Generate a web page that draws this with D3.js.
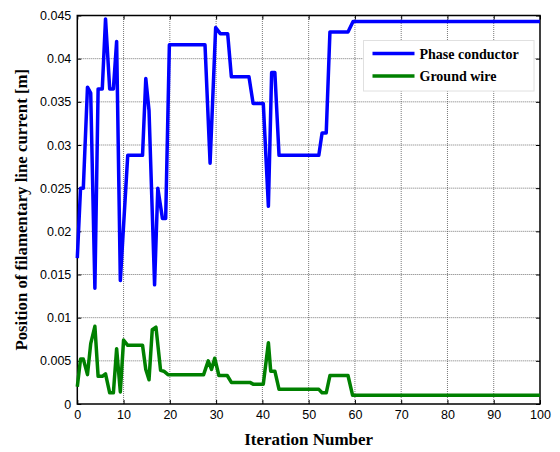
<!DOCTYPE html>
<html>
<head>
<meta charset="utf-8">
<script src="https://cdn.jsdelivr.net/npm/d3@7"></script>
<style>
  body { margin: 0; background: #fff; }
  .tick text { font-family: "Liberation Sans", Arial, sans-serif; font-size: 12.5px; fill: #000; }
</style>
</head>
<body>
<div id="chart"></div>
<script>
// chart data: [iteration, position (m)]
const phaseConductor = [
  [0, 0.0169], [0.7, 0.025], [1.3, 0.025], [2.2, 0.0367], [2.9, 0.036], [3.8, 0.0134],
  [4.5, 0.0365], [5.4, 0.0365], [6.1, 0.0446], [7, 0.0365], [7.8, 0.0365], [8.5, 0.042],
  [9.3, 0.0143], [10.9, 0.0288], [14.1, 0.0288], [14.8, 0.0377], [15.5, 0.034], [16.7, 0.0138],
  [17.4, 0.025], [18.4, 0.0215], [19.1, 0.0215], [19.9, 0.0416], [27.6, 0.0416], [28.7, 0.0279],
  [29.9, 0.0436], [30.9, 0.0429], [32.5, 0.0429], [33.3, 0.0379], [37.1, 0.0379], [38, 0.0348],
  [40.2, 0.0348], [41.3, 0.0229], [42, 0.0384], [42.7, 0.0384], [43.6, 0.0288], [52.2, 0.0288],
  [52.9, 0.0314], [53.8, 0.0314], [54.6, 0.0431], [58.5, 0.0431], [59.6, 0.0443], [100, 0.0443]
];
const groundWire = [
  [0, 0.0020], [0.7, 0.0052], [1.3, 0.0052], [2.2, 0.0034], [2.9, 0.0070], [3.8, 0.0090],
  [4.5, 0.0032], [5.4, 0.0032], [6.1, 0.0035], [7, 0.0013], [7.8, 0.0013], [8.5, 0.0064],
  [9.3, 0.0014], [10, 0.0074], [10.9, 0.0068], [14.1, 0.0068], [14.8, 0.0040], [15.5, 0.0028],
  [16.2, 0.0086], [17, 0.0089], [18, 0.0039], [18.7, 0.0038], [19.6, 0.0034], [27.3, 0.0034],
  [28.3, 0.0050], [29, 0.0040], [29.7, 0.0053], [30.6, 0.0033], [32.4, 0.0033], [33.3, 0.0025],
  [37.3, 0.0025], [38, 0.0023], [40.2, 0.0023], [41.3, 0.0071], [41.8, 0.0038], [42.7, 0.0038],
  [43.6, 0.0017], [52.2, 0.0017], [52.9, 0.0013], [53.8, 0.0013], [54.6, 0.0033], [58.5, 0.0033],
  [59.5, 0.0010], [100, 0.0010]
];
const xTicks = [0, 10, 20, 30, 40, 50, 60, 70, 80, 90, 100];
const yTicks = [0, 0.005, 0.01, 0.015, 0.02, 0.025, 0.03, 0.035, 0.04, 0.045];
const seriesNames = ["Phase conductor", "Ground wire"];

const W = 560, H = 452;
const margin = {top: 15.5, right: 20, bottom: 48, left: 77.3};
const colorPhase = "#0000ff";
const colorGround = "#008000";

const svg = d3.select("#chart").append("svg")
  .attr("width", W)
  .attr("height", H);

svg.append("rect").attr("width", W).attr("height", H).attr("fill", "#fff");

const x = d3.scaleLinear().domain([0, 100]).range([margin.left, W - margin.right]);
const y = d3.scaleLinear().domain([0, 0.045]).range([H - margin.bottom, margin.top]);

// grid
const grid = svg.append("g");
grid.selectAll("line.gx")
  .data(xTicks.slice(1, -1))
  .enter().append("line")
  .attr("x1", d => x(d)).attr("x2", d => x(d))
  .attr("y1", y(0)).attr("y2", y(0.045))
  .attr("stroke", "#555").attr("stroke-width", 0.8)
  .attr("stroke-dasharray", "1,1");
grid.selectAll("line.gy")
  .data(yTicks.slice(1, -1))
  .enter().append("line")
  .attr("y1", d => y(d)).attr("y2", d => y(d))
  .attr("x1", x(0)).attr("x2", x(100))
  .attr("stroke", "#555").attr("stroke-width", 0.8)
  .attr("stroke-dasharray", "1,1");

// axes
const fmtY = d => d === 0 ? "0" : d3.format("")(+d.toFixed(3));

svg.append("g")
  .attr("transform", `translate(0,${y(0)})`)
  .call(d3.axisBottom(x).tickValues(xTicks).tickSize(-4).tickPadding(6))
  .call(g => g.select(".domain").remove());

svg.append("g")
  .attr("transform", `translate(${x(0)},0)`)
  .call(d3.axisLeft(y).tickValues(yTicks).tickFormat(fmtY).tickSize(-4).tickPadding(6))
  .call(g => g.select(".domain").remove());

svg.append("g")
  .attr("transform", `translate(0,${y(0.045)})`)
  .call(d3.axisTop(x).tickValues(xTicks).tickSize(-4).tickFormat(""))
  .call(g => g.select(".domain").remove());

svg.append("g")
  .attr("transform", `translate(${x(100)},0)`)
  .call(d3.axisRight(y).tickValues(yTicks).tickSize(-4).tickFormat(""))
  .call(g => g.select(".domain").remove());

svg.selectAll(".tick line").attr("stroke", "#000").attr("stroke-width", 1);

// frame
svg.append("rect")
  .attr("x", x(0)).attr("y", y(0.045))
  .attr("width", x(100) - x(0)).attr("height", y(0) - y(0.045))
  .attr("fill", "none").attr("stroke", "#000").attr("stroke-width", 1.5);

// lines
const line = d3.line().x(d => x(d[0])).y(d => y(d[1]));

svg.append("path")
  .datum(groundWire)
  .attr("d", line)
  .attr("fill", "none")
  .attr("stroke", colorGround)
  .attr("stroke-width", 3.5)
  .attr("stroke-linejoin", "round");

svg.append("path")
  .datum(phaseConductor)
  .attr("d", line)
  .attr("fill", "none")
  .attr("stroke", colorPhase)
  .attr("stroke-width", 3.5)
  .attr("stroke-linejoin", "round");

// legend
const lg = svg.append("g").attr("transform", "translate(363.5,40.5)");
lg.append("rect")
  .attr("width", 170.5).attr("height", 50.5)
  .attr("fill", "#fff").attr("stroke", "#e0e0e0").attr("stroke-width", 1);

const items = lg.selectAll("g.item")
  .data(seriesNames)
  .enter().append("g")
  .attr("transform", (d, i) => `translate(0,${13 + i * 22.4})`);

items.append("line")
  .attr("x1", 9).attr("x2", 51)
  .attr("stroke", (d, i) => i === 0 ? colorPhase : colorGround)
  .attr("stroke-width", 3.5);

items.append("text")
  .attr("x", 56).attr("y", 5)
  .style("font-family", "'Liberation Serif', 'Times New Roman', serif")
  .style("font-weight", "bold")
  .style("font-size", "14px")
  .text(d => d);

// axis titles
svg.append("text")
  .attr("x", (x(0) + x(100)) / 2)
  .attr("y", 445)
  .style("text-anchor", "middle")
  .style("font-family", "'Liberation Serif', 'Times New Roman', serif")
  .style("font-weight", "bold")
  .style("font-size", "17px")
  .text("Iteration Number");

svg.append("text")
  .attr("transform", "rotate(-90)")
  .attr("x", -(y(0) + y(0.045)) / 2)
  .attr("y", 27)
  .style("text-anchor", "middle")
  .style("font-family", "'Liberation Serif', 'Times New Roman', serif")
  .style("font-weight", "bold")
  .style("font-size", "16.8px")
  .text("Position of filamentary line current [m]");
</script>
</body>
</html>
